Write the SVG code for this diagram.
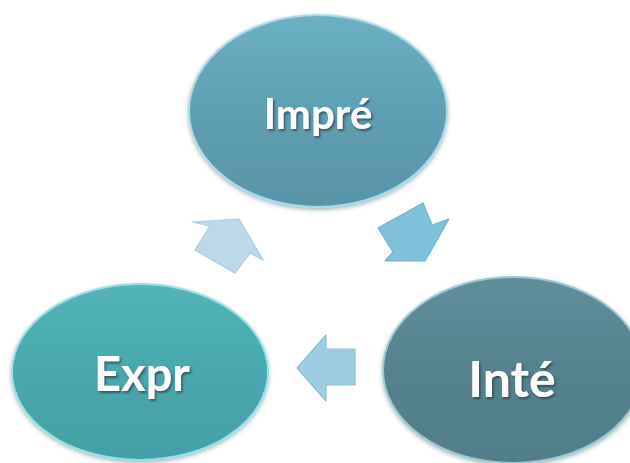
<svg xmlns="http://www.w3.org/2000/svg" width="630" height="463" viewBox="0 0 630 463">
<defs>
<style>
.lbl{font-family:Lato,"Open Sans","Liberation Sans",sans-serif;font-weight:bold;fill:#ffffff;text-anchor:middle;filter:url(#tsh)}
.arr{stroke-width:1.2;stroke-linejoin:round}
</style>
<filter id="tsh" x="-20%" y="-20%" width="140%" height="150%">
<feDropShadow dx="1.5" dy="2" stdDeviation="1.2" flood-color="#1f3a44" flood-opacity="0.7"/>
</filter>
<filter id="esh" x="-10%" y="-10%" width="120%" height="125%">
<feDropShadow dx="0" dy="2" stdDeviation="2" flood-color="#2a4a55" flood-opacity="0.4"/>
</filter>
<linearGradient id="gImp" x1="0" y1="0" x2="0" y2="1">
<stop offset="0" stop-color="#6bb0c6"/>
<stop offset="0.5" stop-color="#5f9fb3"/>
<stop offset="1" stop-color="#5894a7"/>
</linearGradient>
<linearGradient id="gInt" x1="0" y1="0" x2="0" y2="1">
<stop offset="0" stop-color="#5e8e9c"/>
<stop offset="0.5" stop-color="#56828f"/>
<stop offset="1" stop-color="#527d8a"/>
</linearGradient>
<linearGradient id="gExp" x1="0" y1="0" x2="0" y2="1">
<stop offset="0" stop-color="#52b4b9"/>
<stop offset="0.5" stop-color="#48a8ad"/>
<stop offset="1" stop-color="#44a0a5"/>
</linearGradient>
</defs>
<rect width="630" height="463" fill="#ffffff"/>
<g id="connectors">
<polygon class="arr" points="192,222 239,219 263,260 250,253 235,273 195,250 210,226" fill="#bcd9ea" stroke="#a9cbe0"/>
<polygon class="arr" points="378,228 423,203 432,225 449,219 425,261 385,261 393,252" fill="#7fc1da" stroke="#6fb3cd"/>
<polygon class="arr" points="297,368 326,335 326,349 355,349 355,385 326,385 326,401" fill="#9ccde2" stroke="#8bbfd6"/>
</g>
<g id="node-impre">
<ellipse cx="318" cy="111" rx="129" ry="96" fill="url(#gImp)" stroke="#a8dbe6" stroke-width="2" filter="url(#esh)"/>
<text class="lbl" x="318" y="129" font-size="42">Impré</text>
</g>
<g id="node-inte">
<ellipse cx="513" cy="370" rx="130" ry="93" fill="url(#gInt)" stroke="#9cc8d3" stroke-width="2" filter="url(#esh)"/>
<text class="lbl" x="512" y="397" font-size="50">Inté</text>
</g>
<g id="node-expr">
<ellipse cx="140" cy="372" rx="128" ry="88" fill="url(#gExp)" stroke="#93e2e6" stroke-width="2" filter="url(#esh)"/>
<text class="lbl" x="142" y="391" font-size="47">Expr</text>
</g>
</svg>
